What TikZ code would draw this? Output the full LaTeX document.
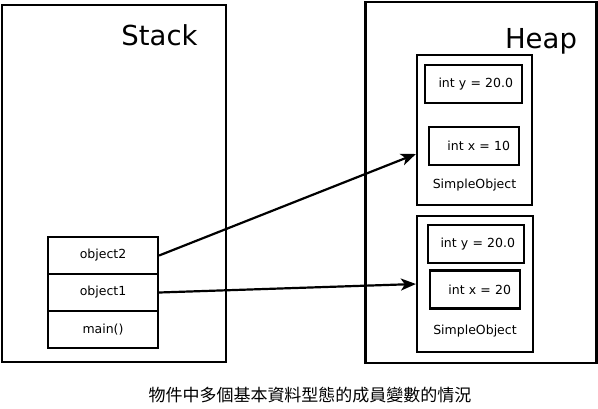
\documentclass[tikz,border=0pt]{standalone}
\usepackage{fontspec}
\setmainfont{DejaVu Sans}
\newfontfamily\cjk{Noto Sans CJK TC}
\usetikzlibrary{arrows.meta}

\begin{document}
\begin{tikzpicture}[
  x=1pt, y=-1pt,
  area/.style={draw, line width=2.2pt, inner sep=0pt},
  frame/.style={draw, line width=2.2pt, minimum width=110pt, minimum height=37pt, font=\fontsize{12.5}{14}\selectfont},
  obj/.style={draw, line width=2.2pt, inner sep=0pt, minimum width=115pt},
  field/.style={draw, line width=2.2pt, minimum height=38pt, inner xsep=9pt, inner ysep=0pt, align=right, font=\fontsize{12.5}{14}\selectfont},
  title/.style={anchor=base, font=\fontsize{27.5}{30}\selectfont},
  arrow/.style={-{Stealth[length=15pt, width=12pt, inset=4pt]}, line width=2.2pt}
]
  \useasboundingbox (0,0) rectangle (598,408);

  % stack
  \node[area, minimum width=224pt, minimum height=357pt] (stack) at (114,183.5) {};
  \node[title] (stacklbl) at (159.5,45) {Stack};
  \node[frame] (obj2) at (103,255.5) {object2};
  \node[frame] (obj1) at (103,292.5) {object1};
  \node[frame] (main) at (103,329.5) {main()};

  % heap
  \node[area, minimum width=231pt, minimum height=361pt] (heap) at (481,182.5) {};
  \node[title] (heaplbl) at (541,48) {Heap};

  \node[obj, minimum height=150pt] (so1) at (474.5,130) {};
  \node[field, text width=79pt] (so1y) at (473.5,84) {int y = 20.0};
  \node[field, text width=72pt] (so1x) at (474,146) {int x = 10};
  \node[font=\fontsize{12.5}{14}\selectfont] (so1lbl) at (474.5,185) {SimpleObject};

  \node[obj, minimum width=116pt, minimum height=136pt] (so2) at (475,284) {};
  \node[field, text width=78pt] (so2y) at (476,244) {int y = 20.0};
  \node[field, text width=72pt] (so2x) at (475,289.5) {int x = 20};
  \node[font=\fontsize{12.5}{14}\selectfont] (so2lbl) at (475,331) {SimpleObject};

  \draw[arrow] (obj2.east) -- ([yshift=-24pt]so1.west);
  \draw[arrow] (obj1.east) -- (so2.west);

  \node[font=\cjk\fontsize{17}{20}\selectfont] (caption) at (310,395) {物件中多個基本資料型態的成員變數的情況};
\end{tikzpicture}
\end{document}
